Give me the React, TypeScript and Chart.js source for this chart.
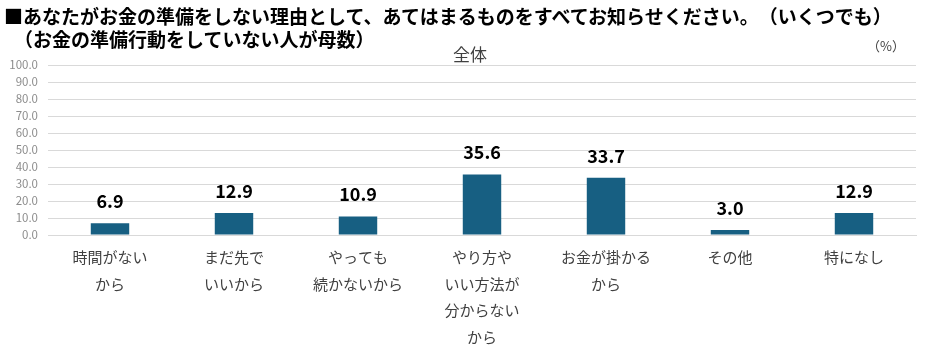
import React, { useEffect, useRef } from "react";
import { Chart, registerables } from "chart.js";

Chart.register(...registerables);

const categories: string[][] = [
  ["時間がない", "から"],
  ["まだ先で", "いいから"],
  ["やっても", "続かないから"],
  ["やり方や", "いい方法が", "分からない", "から"],
  ["お金が掛かる", "から"],
  ["その他"],
  ["特になし"],
];
const values: number[] = [6.9, 12.9, 10.9, 35.6, 33.7, 3.0, 12.9];
const yTicks: number[] = [0, 10, 20, 30, 40, 50, 60, 70, 80, 90, 100];

const titleLine1 = "■あなたがお金の準備をしない理由として、あてはまるものをすべてお知らせください。（いくつでも）";
const titleLine2 = "（お金の準備行動をしていない人が母数）";
const chartTitle = "全体";
const unitLabel = "（%）";

const JP = '"Noto Sans CJK JP", "Noto Sans", sans-serif';

const valueLabels = {
  id: "valueLabels",
  afterDatasetsDraw(chart: any) {
    const ctx = chart.ctx;
    const meta = chart.getDatasetMeta(0);
    ctx.save();
    ctx.font = `bold 18px ${JP}`;
    ctx.fillStyle = "#000000";
    ctx.textAlign = "center";
    ctx.textBaseline = "middle";
    meta.data.forEach((bar: any, i: number) => {
      ctx.fillText(values[i].toFixed(1), bar.x, bar.y - 22);
    });
    ctx.restore();
  },
};

export default function App() {
  const ref = useRef<HTMLCanvasElement | null>(null);
  useEffect(() => {
    if (!ref.current) return;
    const chart = new Chart(ref.current, {
      type: "bar",
      data: {
        labels: categories,
        datasets: [
          {
            data: values,
            backgroundColor: "#175f82",
            borderWidth: 0,
            barPercentage: 0.31,
            categoryPercentage: 1,
          },
        ],
      },
      options: {
        responsive: false,
        animation: false,
        layout: { padding: { top: 65, right: 13, left: 0, bottom: 0 } },
        plugins: {
          legend: { display: false },
          tooltip: { enabled: false },
          title: { display: false },
        },
        scales: {
          x: {
            grid: { display: false },
            border: { display: true, color: "#d9d9d9", width: 1 },
            ticks: {
              maxRotation: 0,
              autoSkip: false,
              padding: 1,
              color: "#404040",
              font: { family: JP, size: 15, lineHeight: 1.78 },
            },
            afterFit: (scale: any) => {
              scale.height = 121;
            },
          },
          y: {
            min: 0,
            max: 100,
            afterBuildTicks: (scale: any) => {
              scale.ticks = yTicks.map((v) => ({ value: v }));
            },
            grid: { color: "#d9d9d9", lineWidth: 1, drawTicks: false },
            border: { display: false },
            ticks: {
              padding: 10,
              color: "#8c8c8c",
              font: { family: JP, size: 11.5 },
              callback: (v: any) => Number(v).toFixed(1),
            },
            afterFit: (scale: any) => {
              scale.width = 48;
            },
          },
        },
      },
      plugins: [valueLabels],
    });
    return () => chart.destroy();
  }, []);

  return (
    <div
      style={{
        position: "fixed",
        left: 0,
        top: 0,
        width: 929,
        height: 356,
        background: "#ffffff",
        overflow: "hidden",
      }}
    >
      <canvas ref={ref} width={929} height={356} style={{ position: "absolute", left: 0, top: 0 }} />
      <div
        style={{
          position: "absolute",
          left: 4,
          top: 4,
          fontFamily: JP,
          fontWeight: "bold",
          fontSize: 19,
          lineHeight: "23px",
          color: "#000000",
          whiteSpace: "nowrap",
          textSpacingTrim: "space-all",
        } as any}
      >
        <div>{titleLine1}</div>
        <div style={{ paddingLeft: 10 }}>{titleLine2}</div>
      </div>
      <div
        style={{
          position: "absolute",
          left: 450,
          top: 43,
          width: 40,
          textAlign: "center",
          fontFamily: JP,
          fontSize: 17,
          lineHeight: "22px",
          color: "#404040",
        }}
      >
        {chartTitle}
      </div>
      <div
        style={{
          position: "absolute",
          left: 867,
          top: 37,
          fontFamily: JP,
          fontSize: 13,
          lineHeight: "18px",
          color: "#404040",
          whiteSpace: "nowrap",
        }}
      >
        {unitLabel}
      </div>
    </div>
  );
}
